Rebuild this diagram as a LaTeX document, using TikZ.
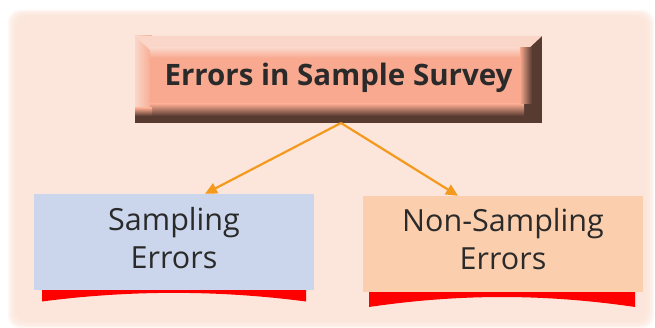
\documentclass[tikz,border=0pt]{standalone}
\usepackage{fontspec}
\setmainfont{Open Sans}
\usetikzlibrary{arrows.meta,calc}
\definecolor{bgpeach}{HTML}{FCE5DA}
\definecolor{salmon}{HTML}{F8A98F}
\definecolor{salmonlight}{HTML}{FAD6C9}
\definecolor{bevdark}{HTML}{573A30}
\definecolor{bluebox}{HTML}{CBD6EC}
\definecolor{peachbox}{HTML}{FBCFAE}
\definecolor{arrowc}{HTML}{F39A1E}
\definecolor{txt}{HTML}{2A2A2A}
\definecolor{redband}{HTML}{FF0000}
\tikzset{
  conn/.style={draw=arrowc, line width=2.2pt, -{Triangle[length=12pt,width=11pt]}},
  lbl/.style={text=txt, font=\fontsize{30.5}{38}\selectfont, align=center},
  toplbl/.style={text=txt, font=\fontsize{29.5}{32}\selectfont\bfseries, align=center},
}
\begin{document}
\begin{tikzpicture}[x=1pt,y=1pt]
\useasboundingbox (0,0) rectangle (655,328);
\fill[white] (0,0) rectangle (655,328);
% soft peach background
\foreach \i in {0,...,9} {
  \fill[bgpeach, opacity=0.3, rounded corners=12] (8+\i*1.5, 0+\i*1.2) rectangle (654-\i*1.5, 318-\i*1.2);
}
% top bevelled box
\fill[bevdark] (135,205) rectangle (542,292);
\shade[left color=salmonlight, right color=salmon] (135,218) rectangle (152,292);
\fill[salmonlight] (135,292) -- (542,292) -- (527,278) -- (150,278) -- cycle;
\shade[top color=salmonlight, bottom color=salmon] (150,270) rectangle (527,280);
\fill[salmon] (150,224) rectangle (524,270);
\shade[top color=salmon, bottom color=bevdark] (150,212) rectangle (524,224);
\shade[left color=salmon, right color=bevdark] (520,224) rectangle (532,280);
\shade[top color=salmon, bottom color=bevdark] (135,212) rectangle (152,220);
\node[toplbl] (t) at (338.5,250) {Errors in Sample Survey};
\coordinate (tb) at (341,205);
% left box
\fill[redband] (42,38) -- (42,26.5) .. controls (130,38) and (218,38) .. (306,26.5) -- (306,38) -- cycle;
\node[fill=bluebox, minimum width=280pt, minimum height=96pt, inner sep=0pt] (l) at (174,86) {};
\node[lbl] (lt) at (174,90) {Sampling\\Errors};
% right box
\fill[redband] (369,36) -- (369,21) .. controls (460,34.3) and (544,34.3) .. (635,21) -- (635,36) -- cycle;
\node[fill=peachbox, minimum width=280pt, minimum height=96pt, inner sep=0pt] (r) at (503,84) {};
\node[lbl] (rt) at (503,89) {Non-Sampling\\Errors};
% connectors
\coordinate (la) at ($(l.north)+(31,0)$);
\coordinate (ra) at ($(r.north)+(-45,0)$);
\draw[conn] (tb) -- (la);
\draw[conn] (tb) -- (ra);
\end{tikzpicture}
\end{document}
